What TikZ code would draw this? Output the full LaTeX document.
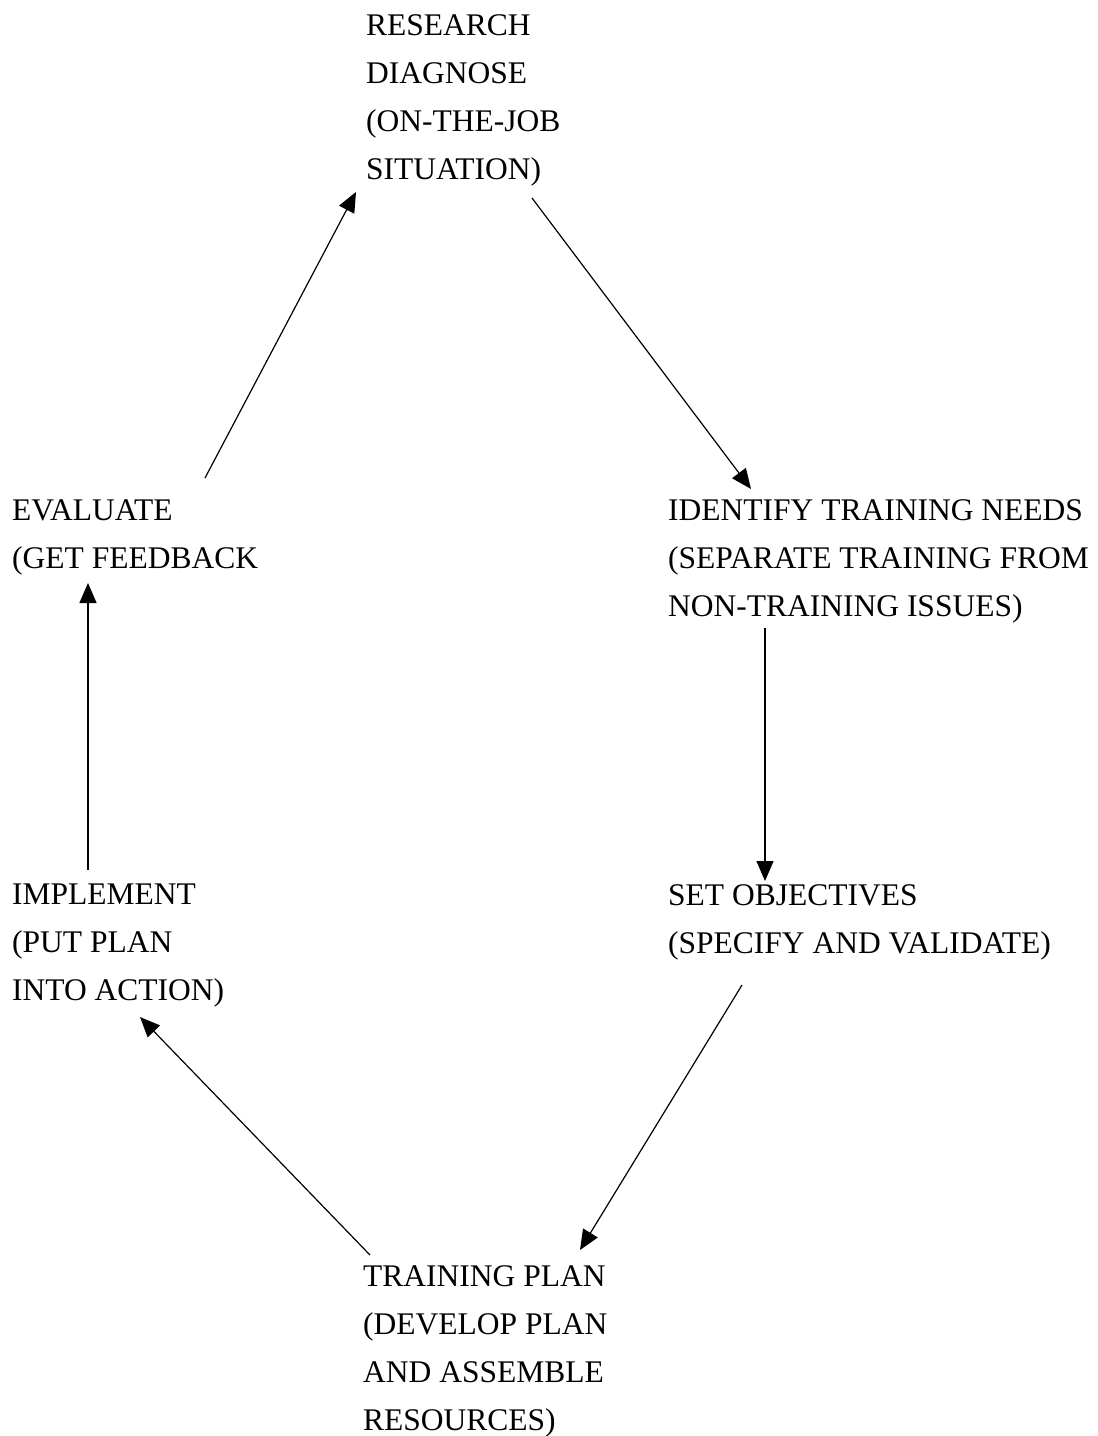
\documentclass[tikz,border=0pt]{standalone}
\usepackage{fontspec}
\setmainfont{Liberation Serif}
\usetikzlibrary{arrows.meta}

\begin{document}
\begin{tikzpicture}[x=1pt,y=-1pt,
    stage/.style={anchor=north west,inner sep=0pt,align=left,font=\fontsize{31.5}{48}\selectfont},
    flow/.style={line width=1.2pt,-{Triangle[length=20pt,width=17pt]}}]
    \useasboundingbox (0,0) rectangle (1098,1436);
    % the six steps of the cycle
    \node[stage](research) at (366,14) {RESEARCH\\DIAGNOSE\\(ON-THE-JOB\\SITUATION)};
    \node[stage](identify) at (668,499) {IDENTIFY TRAINING NEEDS\\(SEPARATE TRAINING FROM\\NON-TRAINING ISSUES)};
    \node[stage](setobj) at (668,884) {SET OBJECTIVES\\(SPECIFY AND VALIDATE)};
    \node[stage](plan) at (363,1265) {TRAINING PLAN\\(DEVELOP PLAN\\AND ASSEMBLE\\RESOURCES)};
    \node[stage](implement) at (12,884) {IMPLEMENT\\(PUT PLAN\\INTO ACTION)};
    \node[stage](evaluate) at (12,499) {EVALUATE\\(GET FEEDBACK};
    % arrows round the cycle
    \draw[flow] ([xshift=166pt,yshift=-184pt]research.north west) -- ([xshift=83pt,yshift=10pt]identify.north west);
    \draw[flow] ([xshift=97pt,yshift=-129pt]identify.north west) -- ([xshift=97pt,yshift=3pt]setobj.north west);
    \draw[flow] ([xshift=74pt,yshift=-101pt]setobj.north west) -- ([xshift=217pt,yshift=15pt]plan.north west);
    \draw[flow] ([xshift=7pt,yshift=10pt]plan.north west) -- ([xshift=128pt,yshift=-133pt]implement.north west);
    \draw[flow] ([xshift=76pt,yshift=14pt]implement.north west) -- ([xshift=76pt,yshift=-84pt]evaluate.north west);
    \draw[flow] ([xshift=193pt,yshift=21pt]evaluate.north west) -- ([xshift=-10pt,yshift=-178pt]research.north west);
\end{tikzpicture}
\end{document}
